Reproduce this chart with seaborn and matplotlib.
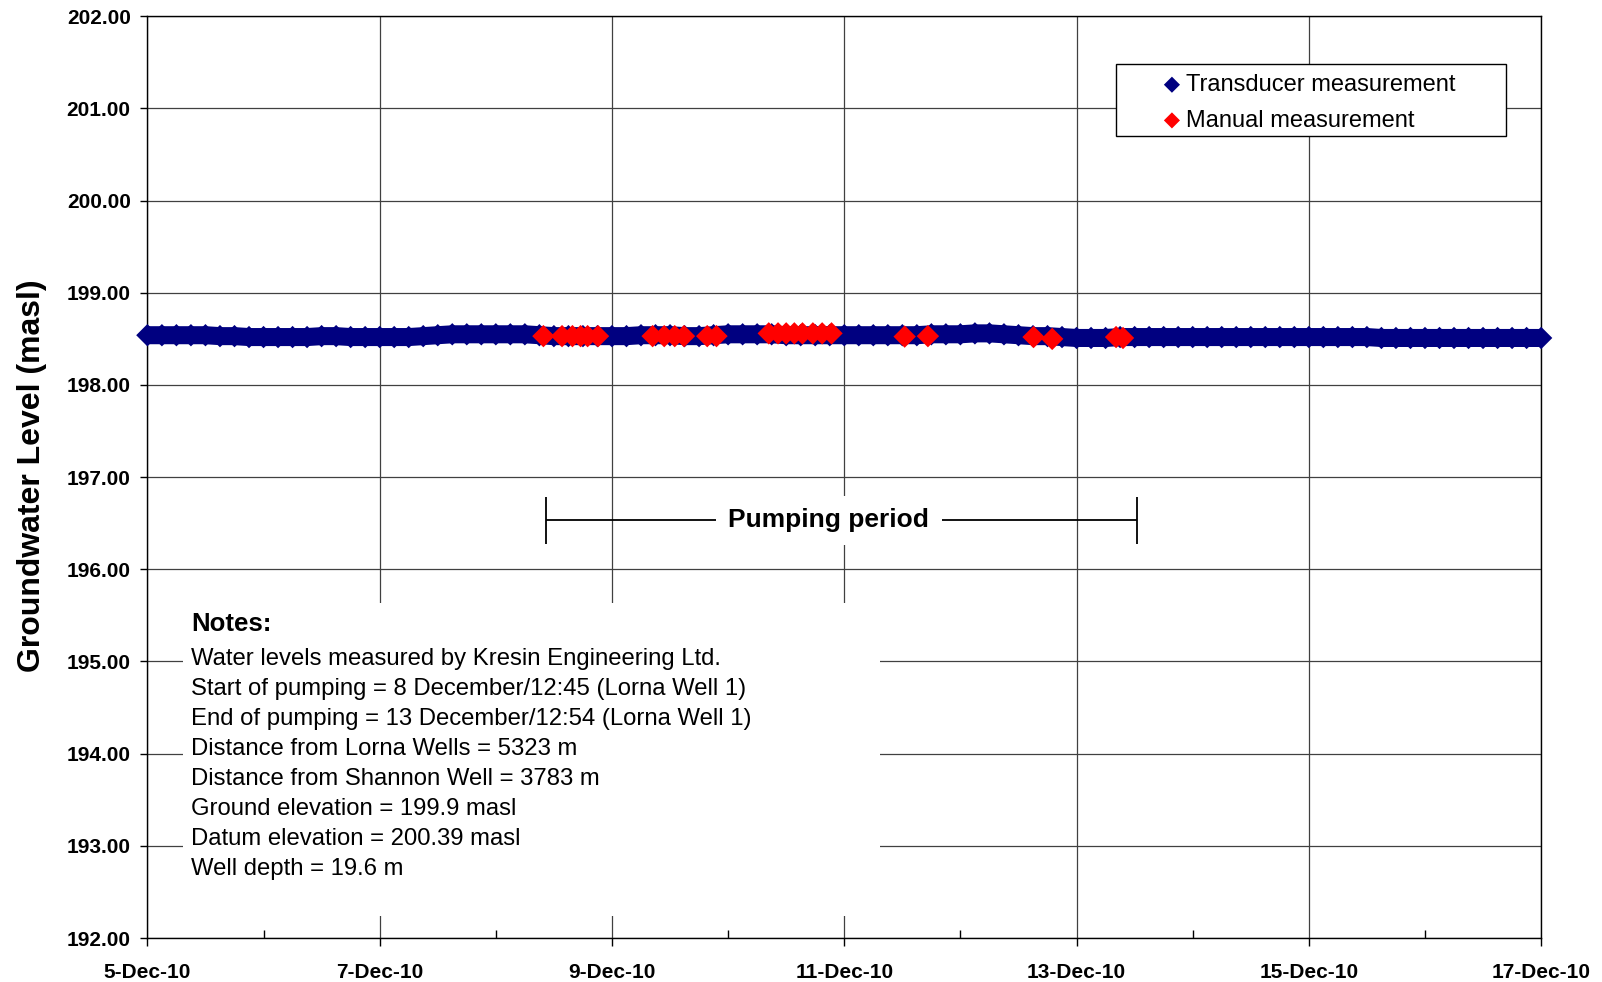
import matplotlib
matplotlib.use("Agg")
import matplotlib.pyplot as plt
import matplotlib.dates as mdates
from matplotlib.patches import Rectangle
from matplotlib.ticker import FormatStrFormatter
import seaborn as sns
import pandas as pd

# transducer readings, every 3 hours from 5-Dec-10 00:00
trans_start = "2010-12-05 00:00"
trans_level = [
    198.54, 198.54, 198.54, 198.54, 198.54, 198.53, 198.53, 198.52,  # 5-Dec
    198.52, 198.52, 198.52, 198.52, 198.53, 198.53, 198.52, 198.52,  # 6-Dec
    198.52, 198.52, 198.52, 198.53, 198.54, 198.55, 198.55, 198.55,  # 7-Dec
    198.55, 198.55, 198.55, 198.54, 198.53, 198.53, 198.53, 198.53,  # 8-Dec
    198.53, 198.53, 198.54, 198.54, 198.54, 198.53, 198.53, 198.54,  # 9-Dec
    198.55, 198.55, 198.55, 198.55, 198.54, 198.54, 198.54, 198.54,  # 10-Dec
    198.54, 198.54, 198.54, 198.54, 198.54, 198.54, 198.55, 198.55,  # 11-Dec
    198.55, 198.56, 198.56, 198.55, 198.54, 198.53, 198.53, 198.52,  # 12-Dec
    198.51, 198.51, 198.51, 198.52, 198.52, 198.52, 198.52, 198.52,  # 13-Dec
    198.52, 198.52, 198.52, 198.52, 198.52, 198.52, 198.52, 198.52,  # 14-Dec
    198.52, 198.52, 198.52, 198.52, 198.52, 198.51, 198.51, 198.51,  # 15-Dec
    198.51, 198.51, 198.51, 198.51, 198.51, 198.51, 198.51, 198.51,  # 16-Dec
    198.51,                                                          # 17-Dec
]

manual_time = [
    "2010-12-08 09:50", "2010-12-08 13:41", "2010-12-08 15:50", "2010-12-08 17:31",
    "2010-12-08 18:58", "2010-12-08 21:07",
    "2010-12-09 08:24", "2010-12-09 10:48", "2010-12-09 12:58", "2010-12-09 14:53",
    "2010-12-09 19:41", "2010-12-09 21:36",
    "2010-12-10 08:24", "2010-12-10 10:19", "2010-12-10 12:00", "2010-12-10 13:41",
    "2010-12-10 15:22", "2010-12-10 17:31", "2010-12-10 19:26", "2010-12-10 21:22",
    "2010-12-11 12:29", "2010-12-11 17:17",
    "2010-12-12 15:07", "2010-12-12 18:58",
    "2010-12-13 08:10", "2010-12-13 09:36",
]
manual_level = [
    198.53, 198.53, 198.53, 198.53, 198.53, 198.53,
    198.53, 198.53, 198.53, 198.53, 198.53, 198.53,
    198.56, 198.56, 198.56, 198.56, 198.56, 198.56, 198.56, 198.56,
    198.525, 198.53,
    198.52, 198.50,
    198.52, 198.51,
]

pump_start = "2010-12-08 10:25"
pump_end = "2010-12-13 12:25"
pump_level = 196.53
pump_text_at = "2010-12-10 20:50"

notes = [
    "Water levels measured by Kresin Engineering Ltd.",
    "Start of pumping = 8 December/12:45 (Lorna Well 1)",
    "End of pumping = 13 December/12:54 (Lorna Well 1)",
    "Distance from Lorna Wells = 5323 m",
    "Distance from Shannon Well = 3783 m",
    "Ground elevation = 199.9 masl",
    "Datum elevation = 200.39 masl",
    "Well depth = 19.6 m",
]

y_ticks = list(range(192, 203))
x_range = ("2010-12-05", "2010-12-17")

navy = "#000080"
red = "#FF0000"

sns.set_theme(style="white")
plt.rcParams["font.family"] = ["Liberation Sans", "DejaVu Sans"]
plt.rcParams.update({"text.color": "black", "axes.labelcolor": "black",
                     "xtick.color": "black", "ytick.color": "black"})

trans_time = pd.date_range(trans_start, periods=len(trans_level), freq="3h")
trans = pd.DataFrame({"time": trans_time, "level": trans_level})
manual = pd.DataFrame({"time": pd.to_datetime(manual_time), "level": manual_level})

fig = plt.figure(figsize=(16.02, 9.82), dpi=100)
ax = fig.add_axes([0.092, 0.0448, 0.870, 0.9386])

# thick band under the transducer diamonds (dense logger record)
sns.lineplot(data=trans, x="time", y="level", color=navy, linewidth=13,
             solid_capstyle="butt", ax=ax, zorder=3, legend=False)
sns.scatterplot(data=trans, x="time", y="level", marker="D", s=130, color=navy,
                edgecolor="none", linewidth=0, ax=ax, zorder=3,
                label="Transducer measurement", clip_on=False)
sns.scatterplot(data=manual, x="time", y="level", marker="D", s=130, color=red,
                edgecolor="none", linewidth=0, ax=ax, zorder=4,
                label="Manual measurement")

ax.set_xlim(pd.Timestamp(x_range[0]), pd.Timestamp(x_range[1]))
ax.set_ylim(y_ticks[0], y_ticks[-1])
ax.set_yticks(y_ticks)
ax.yaxis.set_major_formatter(FormatStrFormatter("%.2f"))
ax.xaxis.set_major_locator(mdates.DayLocator(interval=2))
ax.xaxis.set_minor_locator(mdates.DayLocator())
ax.xaxis.set_major_formatter(mdates.DateFormatter("%-d-%b-%y"))

ax.set_axisbelow(True)
ax.grid(True, which="major", color="#404040", linewidth=0.9)
for s in ax.spines.values():
    s.set_color("black")
    s.set_linewidth(1.0)

ax.tick_params(axis="y", which="major", direction="out", length=5, width=1,
               pad=7, labelsize=15, left=True)
ax.tick_params(axis="x", which="major", direction="out", length=6, width=1,
               pad=12, labelsize=15, bottom=True)
ax.tick_params(axis="x", which="minor", direction="in", length=6, width=1,
               bottom=True)
for t in ax.get_xticklabels() + ax.get_yticklabels():
    t.set_fontweight("bold")

ax.set_xlabel("")
ax.set_ylabel("Groundwater Level (masl)", fontsize=23, fontweight="bold")
ax.yaxis.set_label_coords(-0.072, 0.502)

# pumping period bracket
t0, t1 = pd.Timestamp(pump_start), pd.Timestamp(pump_end)
ax.hlines(pump_level, t0, t1, color="black", linewidth=1.3, zorder=3)
ax.vlines([t0, t1], pump_level - 0.25, pump_level + 0.25, color="black",
          linewidth=1.3, zorder=3)
ax.text(pd.Timestamp(pump_text_at), pump_level, "Pumping period", fontsize=19,
        fontweight="bold", ha="center", va="center", zorder=4,
        bbox=dict(facecolor="white", edgecolor="none", pad=9))

# legend with a separate square frame
ax.add_patch(Rectangle((0.695, 0.870), 0.28, 0.078, transform=ax.transAxes,
                       facecolor="white", edgecolor="black", linewidth=1.0,
                       zorder=5))
leg = ax.legend(loc="upper left", bbox_to_anchor=(0.7296, 0.9375), frameon=False,
                markerscale=0.72, handlelength=0.65, handletextpad=0.25,
                borderpad=0, borderaxespad=0, labelspacing=0.58, fontsize=17)
leg.set_zorder(6)

# notes box
ax.add_patch(Rectangle((0.0256, 0.0239), 0.5004, 0.340, transform=ax.transAxes,
                       facecolor="white", edgecolor="none", zorder=2))
ax.text(0.0314, 0.341, "Notes:", transform=ax.transAxes, fontsize=18.5,
        fontweight="bold", va="center", zorder=6)
for i, line in enumerate(notes):
    ax.text(0.0314, 0.303 - i * 0.0326, line, transform=ax.transAxes,
            fontsize=17.2, va="center", zorder=6)

fig.savefig("out.png", dpi=100)
plt.close(fig)
